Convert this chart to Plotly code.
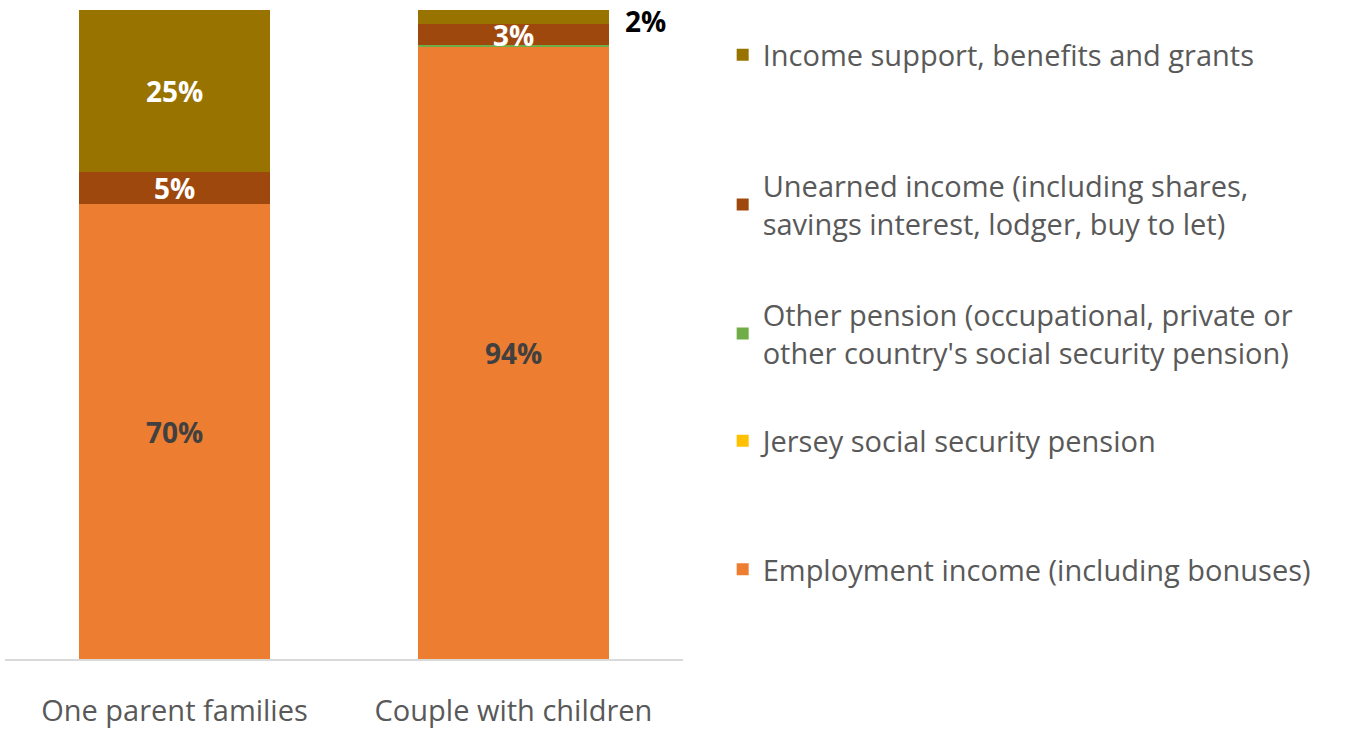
import plotly.graph_objects as go

categories = ["One parent families", "Couple with children"]
series_names = [
    "Employment income (including bonuses)",
    "Jersey social security pension",
    "Other pension (occupational, private or<br>other country's social security pension)",
    "Unearned income (including shares,<br>savings interest, lodger, buy to let)",
    "Income support, benefits and grants",
]
employment = [70.1, 94.3]
jersey_pension = [0.0, 0.0]
other_pension = [0.0, 0.3]
unearned = [4.9, 3.2]
income_support = [25.0, 2.2]

values = [employment, jersey_pension, other_pension, unearned, income_support]
colors = ["#ED7D31", "#FFC000", "#70AD47", "#9E480E", "#997300"]
labels = [
    ["70%", "94%"],
    ["", ""],
    ["", ""],
    ["5%", "3%"],
    ["25%", ""],
]
label_colors = ["#404040", "#404040", "#404040", "#FFFFFF", "#FFFFFF"]
legend_ids = ["legend5", "legend4", "legend3", "legend2", "legend"]
legend_y = [0.138, 0.336, 0.501, 0.700, 0.931]

FONT = "Open Sans"
fig = go.Figure()
for name, vals, col, lab, lc, lid in zip(series_names, values, colors, labels, label_colors, legend_ids):
    fig.add_trace(go.Bar(
        x=categories, y=vals, name=name, marker_color=col,
        marker_line_width=0,
        text=lab, texttemplate="<b>%{text}</b>", textposition="inside",
        insidetextanchor="middle", textangle=0, constraintext="none",
        textfont=dict(family=FONT, size=28, color=lc),
        legend=lid, hoverinfo="skip",
    ))

# outside label for the small top segment of the second bar
fig.add_annotation(
    x=categories[1], y=sum(v[1] for v in values) - income_support[1] / 2,
    text="<b>2%</b>", showarrow=False, xshift=132, yshift=-4,
    font=dict(family=FONT, size=28, color="#000000"),
)

legend_common = dict(
    x=0.532, xanchor="left", yanchor="middle",
    font=dict(family=FONT, size=29, color="#595959"),
    bgcolor="rgba(0,0,0,0)", itemclick=False, itemdoubleclick=False,
)
layout_legends = {}
for lid, y in zip(legend_ids, legend_y):
    layout_legends[lid] = dict(legend_common, y=y)

fig.update_layout(
    width=1354, height=729,
    margin=dict(l=5, r=0, t=10, b=66),
    barmode="stack", bargap=0.434,
    plot_bgcolor="white", paper_bgcolor="white",
    showlegend=True,
    xaxis=dict(domain=[0, 678 / 1349], showline=True, linecolor="#D9D9D9", linewidth=2,
               tickfont=dict(family=FONT, size=29, color="#595959"),
               ticks="", ticklabelstandoff=25),
    yaxis=dict(range=[0, 100], visible=False, showgrid=False),
    **layout_legends,
)

fig.write_html("out.html", config={"displayModeBar": False},
               post_script="document.body.style.margin='0';")
